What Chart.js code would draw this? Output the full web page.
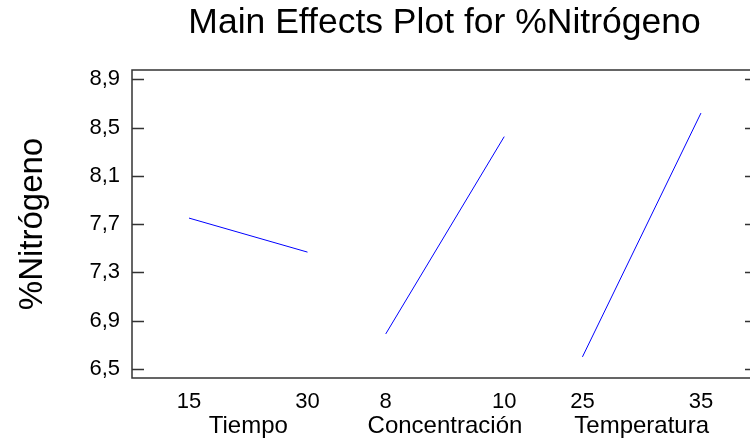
<!DOCTYPE html>
<html><head><meta charset="utf-8">
<script src="https://cdn.jsdelivr.net/npm/chart.js@4"></script>
<style>html,body{margin:0;padding:0;overflow:hidden;background:#fff;width:750px;height:448px}canvas{display:block}</style>
</head><body>
<canvas id="c" width="760" height="448"></canvas>
<script>
const chartTitle = 'Main Effects Plot for %Nitrógeno';
const yAxisTitle = '%Nitrógeno';
const factors = ['Tiempo', 'Concentración', 'Temperatura'];
const levels = [['15', '30'], ['8', '10'], ['25', '35']];
const means = [[7.75, 7.468], [6.79, 8.425], [6.60, 8.62]];
const yTicks = [6.5, 6.9, 7.3, 7.7, 8.1, 8.5, 8.9];

const PANEL_STEP = 1.66;
const FONT = "'Liberation Sans', Arial, sans-serif";

const datasets = factors.map((f, i) => ({
  label: f,
  data: levels[i].map((lv, j) => ({ x: i * PANEL_STEP + j, y: means[i][j] })),
  borderColor: '#0000ff', borderWidth: 1, pointRadius: 0, fill: false, tension: 0
}));

const xTickDefs = [];
factors.forEach((f, i) => {
  levels[i].forEach((lv, j) => xTickDefs.push({ value: i * PANEL_STEP + j, label: lv, cat: false }));
  xTickDefs.push({ value: i * PANEL_STEP + 0.5, label: ['', f], cat: true });
});
xTickDefs.sort((a, b) => a.value - b.value);

const frame = {
  id: 'frame',
  afterDatasetsDraw(chart) {
    const { ctx, chartArea: a } = chart;
    const ys = chart.scales.y;
    ctx.save();
    ctx.strokeStyle = '#333';
    ctx.lineWidth = 1.5;
    ctx.strokeRect(a.left, a.top, a.right - a.left, a.bottom - a.top);
    ctx.beginPath();
    yTicks.forEach(v => {
      const p = Math.round(ys.getPixelForValue(v)) + 0.5;
      ctx.moveTo(a.left, p); ctx.lineTo(a.left + 12, p);
      ctx.moveTo(a.right - 12, p); ctx.lineTo(a.right, p);
    });
    ctx.stroke();
    ctx.restore();
  }
};

new Chart(document.getElementById('c'), {
  type: 'line',
  data: { datasets },
  options: {
    responsive: false,
    animation: false,
    devicePixelRatio: 1,
    layout: { padding: { left: 0, right: 3, top: 0, bottom: 0 } },
    plugins: {
      legend: { display: false },
      tooltip: { enabled: false },
      title: {
        display: true, text: chartTitle, color: '#000', fullSize: false, align: 'center',
        font: { family: FONT, size: 35.5, weight: 'normal', lineHeight: 1.2 },
        padding: { top: 2, bottom: 25.4 }
      }
    },
    scales: {
      x: {
        type: 'linear', position: 'bottom',
        min: -0.481, max: 4.793,
        grid: { display: false, drawTicks: false },
        border: { display: false },
        afterBuildTicks: s => { s.ticks = xTickDefs.map(t => ({ value: t.value })); },
        afterFit: s => { s.height = 70; },
        ticks: {
          autoSkip: false, maxRotation: 0, minRotation: 0, padding: 11, color: '#000',
          callback: (v, i) => xTickDefs[i].label,
          font: c => xTickDefs[c.index] && xTickDefs[c.index].cat
            ? { family: FONT, size: 24, lineHeight: 1.03 }
            : { family: FONT, size: 22, lineHeight: 1.2 }
        }
      },
      y: {
        type: 'linear', position: 'left',
        min: 6.425, max: 8.977,
        grid: { display: false, drawTicks: false },
        border: { display: false },
        afterBuildTicks: s => { s.ticks = yTicks.map(v => ({ value: v })); },
        afterFit: s => { s.width = 132; },
        title: {
          display: true, text: yAxisTitle, color: '#000',
          font: { family: FONT, size: 33, lineHeight: 1.2 },
          padding: { top: 13, bottom: 0 }
        },
        ticks: {
          padding: 12, color: '#000',
          font: { family: FONT, size: 22 },
          callback: v => v.toFixed(1).replace('.', ',')
        }
      }
    }
  },
  plugins: [frame]
});
</script>
</body></html>
